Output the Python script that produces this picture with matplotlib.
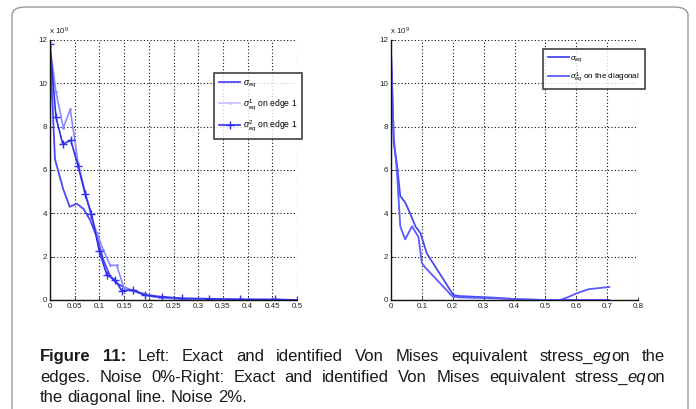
import matplotlib
matplotlib.use('Agg')
import matplotlib.pyplot as plt
from matplotlib.patches import FancyBboxPatch

plt.rcParams['font.family'] = ['Liberation Sans', 'DejaVu Sans']
plt.rcParams['mathtext.fontset'] = 'custom'
plt.rcParams['mathtext.rm'] = 'Liberation Sans'
plt.rcParams['mathtext.it'] = 'Liberation Sans:italic'

# ── Left panel: edges, noise 0% (values in units of 1e9) ─────────────────────
L_EXACT_X = [0, 0.01, 0.027, 0.04, 0.054, 0.068, 0.081, 0.095, 0.108, 0.122, 0.135,
             0.155, 0.182, 0.21, 0.243, 0.277, 0.35, 0.5]
L_EXACT_Y = [11.7, 6.5, 5.1, 4.3, 4.45, 4.2, 3.7, 2.9, 1.85, 1.08, 0.77,
             0.54, 0.31, 0.15, 0.08, 0.03, 0.01, 0.0]

L_EDGE1_X = [0, 0.012, 0.027, 0.041, 0.057, 0.071, 0.084, 0.095, 0.108, 0.122, 0.135,
             0.149, 0.162, 0.19, 0.22, 0.26, 0.32, 0.4, 0.5]
L_EDGE1_Y = [11.7, 9.6, 7.95, 8.8, 6.3, 5.0, 3.8, 3.1, 2.3, 1.6, 1.6,
             0.6, 0.46, 0.3, 0.15, 0.06, 0.03, 0.02, 0.0]

L_EDGE2_X = [0, 0.012, 0.026, 0.042, 0.057, 0.071, 0.084, 0.1, 0.115, 0.132, 0.145,
             0.169, 0.193, 0.226, 0.267, 0.321, 0.385, 0.456, 0.5]
L_EDGE2_Y = [11.8, 8.44, 7.18, 7.38, 6.17, 4.9, 3.97, 2.24, 1.16, 0.93, 0.43,
             0.46, 0.22, 0.15, 0.08, 0.06, 0.03, 0.03, 0.0]

L_XTICKS = [0, 0.05, 0.1, 0.15, 0.2, 0.25, 0.3, 0.35, 0.4, 0.45, 0.5]
L_XLABELS = ['0', '0.05', '0.1', '0.15', '0.2', '0.25', '0.3', '0.35', '0.4', '0.45', '0.5']

# ── Right panel: diagonal, noise 2% ───────────────────────────────────────────
R_EXACT_X = [0, 0.009, 0.019, 0.03, 0.046, 0.062, 0.079, 0.095, 0.116, 0.202, 0.224,
             0.33, 0.418, 0.5, 0.707]
R_EXACT_Y = [11.5, 7.2, 6.3, 4.8, 4.5, 4.0, 3.4, 3.1, 2.15, 0.23, 0.18,
             0.11, 0.03, 0.0, 0.0]

R_DIAG_X = [0, 0.009, 0.019, 0.03, 0.046, 0.068, 0.089, 0.1, 0.111, 0.2, 0.224,
            0.33, 0.418, 0.5, 0.547, 0.568, 0.6, 0.64, 0.707]
R_DIAG_Y = [11.5, 7.5, 6.0, 3.4, 2.8, 3.4, 2.9, 1.7, 1.5, 0.15, 0.12,
            0.08, 0.03, 0.0, 0.0, 0.1, 0.3, 0.5, 0.6]

R_XTICKS = [0, 0.1, 0.2, 0.3, 0.4, 0.5, 0.6, 0.7, 0.8]
R_XLABELS = ['0', '0.1', '0.2', '0.3', '0.4', '0.5', '0.6', '0.7', '0.8']

YTICKS = [0, 2, 4, 6, 8, 10, 12]

# caption: lines -> words -> (text, style) segments
CAPTION = [
    [[('Figure', 'b')], [('11:', 'b')], [('Left:', 'n')], [('Exact', 'n')], [('and', 'n')],
     [('identified', 'n')], [('Von', 'n')], [('Mises', 'n')], [('equivalent', 'n')],
     [('stress_', 'n'), ('eg', 'i'), ('on', 'n')], [('the', 'n')]],
    [[('edges.', 'n')], [('Noise', 'n')], [('0%-Right:', 'n')], [('Exact', 'n')], [('and', 'n')],
     [('identified', 'n')], [('Von', 'n')], [('Mises', 'n')], [('equivalent', 'n')],
     [('stress_', 'n'), ('eq', 'i'), ('on', 'n')]],
    [[('the', 'n')], [('diagonal', 'n')], [('line.', 'n')], [('Noise', 'n')], [('2%.', 'n')]],
]

W, H = 696, 409
fig = plt.figure(figsize=(W / 100, H / 100), dpi=100)
fig.patch.set_facecolor('white')

# rounded frame around the figure
frame = FancyBboxPatch((12 / W, -0.1), 676 / W, (H - 7) / H + 0.1,
                       boxstyle='round,pad=0,rounding_size=0.02',
                       transform=fig.transFigure, facecolor='none',
                       edgecolor='#9a9a9a', linewidth=1.0)
fig.patches.append(frame)


def style_axes(ax, xticks, xlabels, xmax):
    ax.set_xlim(0, xmax)
    ax.set_ylim(0, 12)
    ax.set_xticks(xticks)
    ax.set_xticklabels(xlabels)
    ax.set_yticks(YTICKS)
    ax.set_yticklabels([str(v) for v in YTICKS])
    ax.tick_params(direction='in', length=2, width=0.6, labelsize=5.8,
                   colors='#222222', pad=2)
    ax.grid(True, color='#111111', linestyle=(0, (1, 2)), linewidth=0.8)
    for s in ['top', 'right']:
        ax.spines[s].set_visible(False)
    for s in ['left', 'bottom']:
        ax.spines[s].set_color('#111111')
        ax.spines[s].set_linewidth(1.0)
    ax.text(-0.005, 1.012, r'x 10$^9$', transform=ax.transAxes, fontsize=5.8,
            color='#222222', ha='left', va='bottom')


ax1 = fig.add_axes([50 / W, 109 / H, 247 / W, 260 / H])
ax1.plot(L_EXACT_X, L_EXACT_Y, color='#4a4af5', linewidth=1.3, label=r'$\sigma_{eq}$')
ax1.plot(L_EDGE1_X, L_EDGE1_Y, color='#8a8aff', linewidth=1.2, marker='.', markersize=2,
         label=r'$\sigma^1_{eq}$ on edge 1')
ax1.plot(L_EDGE2_X, L_EDGE2_Y, color='#3030f0', linewidth=1.2, marker='+', markersize=6,
         markeredgewidth=1.0, label=r'$\sigma^2_{eq}$ on edge 1')
style_axes(ax1, L_XTICKS, L_XLABELS, 0.5)
leg1 = ax1.legend(loc='upper left', bbox_to_anchor=(160 / 247, (300 - 69) / 260),
                  fontsize=6.2, frameon=True, fancybox=False, handlelength=2.4,
                  borderpad=0.6, labelspacing=0.8, handletextpad=0.3)
leg1.get_frame().set_edgecolor('#111111')
leg1.get_frame().set_linewidth(1.2)
# edge-1 entry is very pale in the legend, like the reference
leg1.get_lines()[1].set_color('#c0c0ff')

ax2 = fig.add_axes([391 / W, 109 / H, 247 / W, 260 / H])
ax2.plot(R_EXACT_X, R_EXACT_Y, color='#4a4af5', linewidth=1.3, label=r'$\sigma_{eq}$')
ax2.plot(R_DIAG_X, R_DIAG_Y, color='#5a5aff', linewidth=1.3,
         label=r'$\sigma^1_{eq}$ on the diagonal')
style_axes(ax2, R_XTICKS, R_XLABELS, 0.8)
leg2 = ax2.legend(loc='upper left', bbox_to_anchor=(148 / 247, (300 - 45) / 260),
                  fontsize=5.8, frameon=True, fancybox=False, handlelength=2.6,
                  borderpad=0.6, labelspacing=0.8, handletextpad=0.2)
leg2.get_frame().set_edgecolor('#111111')
leg2.get_frame().set_linewidth(1.2)

# ── Caption (justified first two lines) ───────────────────────────────────────
renderer = fig.canvas.get_renderer()
FS = 12
STYLE = {'n': dict(), 'b': dict(fontweight='bold'), 'i': dict(fontstyle='italic')}


def seg_width(txt, st):
    t = fig.text(0, 0, txt, fontsize=FS, **STYLE[st])
    w = t.get_window_extent(renderer).width
    t.remove()
    return w


X0, X1 = 40, 665
BASES = [361, 382, 402]
for li, words in enumerate(CAPTION):
    widths = [[seg_width(s, st) for s, st in wd] for wd in words]
    word_w = [sum(w) for w in widths]
    if li < len(CAPTION) - 1:
        gap = (X1 - X0 - sum(word_w)) / (len(words) - 1)
    else:
        gap = seg_width('a a', 'n') - 2 * seg_width('a', 'n')
    x = X0
    for wd, ws in zip(words, widths):
        xs = x
        for (s, st), w in zip(wd, ws):
            fig.text(xs / W, 1 - BASES[li] / H, s, fontsize=FS, color='#1a1a1a',
                     ha='left', va='baseline', **STYLE[st])
            xs += w
        x += sum(ws) + gap

fig.savefig('out.png', dpi=100, facecolor=fig.get_facecolor())
